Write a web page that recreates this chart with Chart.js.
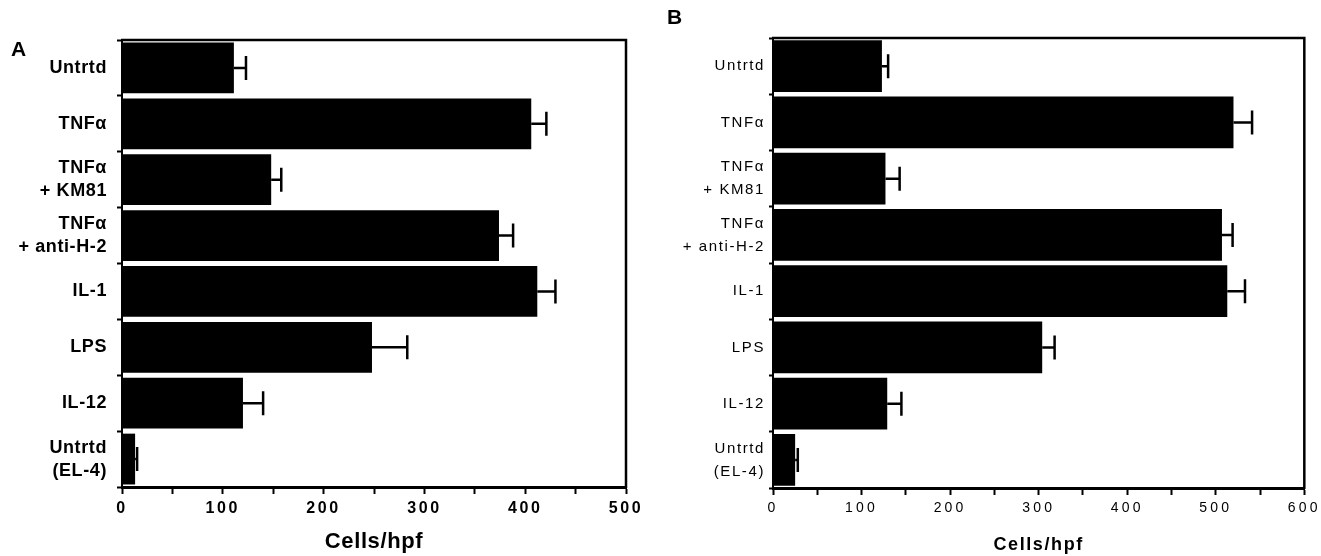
<!DOCTYPE html>
<html><head><meta charset="utf-8">
<script src="https://cdn.jsdelivr.net/npm/chart.js@4/dist/chart.umd.min.js"></script>
<style>
html,body{margin:0;padding:0;background:#fff;}
#wrap{position:relative;width:1321px;height:556px;overflow:hidden;background:#fff;}
canvas{position:absolute;top:0;}
#cA{left:0}
#cB{left:660px}
.pl{position:absolute;font-family:"Liberation Sans",Arial,sans-serif;font-weight:bold;font-size:21px;line-height:1;color:#000}
</style></head><body>
<div id="wrap">
<canvas id="cA" width="660" height="556"></canvas>
<canvas id="cB" width="661" height="556"></canvas>
<div class="pl" style="left:11px;top:38px">A</div>
<div class="pl" style="left:667px;top:6px">B</div>
</div>
<script>
// ---- data ----
const categories = [['Untrtd'], ['TNFα'], ['TNFα', '+ KM81'], ['TNFα', '+ anti-H-2'], ['IL-1'], ['LPS'], ['IL-12'], ['Untrtd', '(EL-4)']];
const meanA = [111, 406, 148, 374, 412, 248, 120, 13];
const errA  = [12, 15, 10, 14, 18, 35, 20, 2];
const meanB = [123, 520, 127, 507, 513, 304, 129, 25];
const errB  = [7, 21, 16, 12, 20, 14, 16, 3];
const xTicksA = [0, 100, 200, 300, 400, 500];
const xMinorA = [50, 150, 250, 350, 450];
const xTicksB = [0, 100, 200, 300, 400, 500, 600];
const xMinorB = [50, 150, 250, 350, 450, 550];
const axisTitle = 'Cells/hpf';

const FAM = '"Liberation Sans", Arial, Helvetica, sans-serif';

const errPlugin = {
  id: 'err',
  afterDatasetsDraw(chart, args, opts) {
    const ctx = chart.ctx, x = chart.scales.x, y = chart.scales.y;
    const vals = chart.data.datasets[0].data;
    ctx.save();
    ctx.strokeStyle = '#000';
    ctx.lineWidth = opts.lineWidth;
    vals.forEach((v, i) => {
      const yp = y.getPixelForValue(i);
      const x0 = x.getPixelForValue(v);
      const x1 = x.getPixelForValue(v + opts.errors[i]);
      ctx.beginPath();
      ctx.moveTo(x0, yp); ctx.lineTo(x1, yp);
      ctx.moveTo(x1, yp - opts.cap); ctx.lineTo(x1, yp + opts.cap);
      ctx.stroke();
    });
    ctx.restore();
  }
};

const boxPlugin = {
  id: 'box',
  afterDraw(chart, args, opts) {
    const ctx = chart.ctx, a = chart.chartArea;
    ctx.save();
    ctx.strokeStyle = '#000';
    ctx.lineWidth = opts.width;
    ctx.beginPath();
    ctx.moveTo(a.left - 1, a.top); ctx.lineTo(a.right, a.top); ctx.lineTo(a.right, a.bottom + 1);
    ctx.stroke();
    ctx.restore();
  }
};

const spacingPlugin = {
  id: 'spacing',
  beforeDraw(chart, args, opts) { chart.ctx.letterSpacing = opts.labels + 'px'; },
  afterDatasetsDraw(chart, args, opts) { chart.ctx.letterSpacing = opts.ticks + 'px'; },
  afterDraw(chart) { chart.ctx.letterSpacing = '0px'; }
};

function makePanel(id, p) {
  const majors = p.majors;
  const all = majors.concat(p.minors).sort((a, b) => a - b);
  return new Chart(document.getElementById(id), {
    type: 'bar',
    data: {
      labels: categories,
      datasets: [{ data: p.values, backgroundColor: '#000', borderWidth: 0, barPercentage: p.barPct, categoryPercentage: 1 }]
    },
    plugins: [spacingPlugin, errPlugin, boxPlugin],
    options: {
      indexAxis: 'y',
      responsive: false,
      maintainAspectRatio: false,
      devicePixelRatio: 1,
      animation: false,
      events: [],
      layout: { padding: p.padding },
      plugins: {
        legend: { display: false },
        tooltip: { enabled: false },
        err: { errors: p.errors, cap: 12, lineWidth: 2.5 },
        box: { width: 2.5 },
        spacing: { labels: p.labelSpacing, ticks: p.tickSpacing }
      },
      scales: {
        x: {
          type: 'linear', position: 'bottom', min: majors[0], max: majors[majors.length - 1],
          afterFit: s => { s.height = p.xHeight; },
          afterBuildTicks: s => { s.ticks = all.map(v => ({ value: v })); },
          grid: { display: true, drawOnChartArea: false, drawTicks: true, tickLength: 7, tickWidth: 2, tickColor: '#000', color: '#000' },
          border: { display: true, color: '#000', width: 3 },
          ticks: {
            z: 1, autoSkip: false, maxRotation: 0, color: '#000', padding: p.xPad,
            font: { family: FAM, size: p.tickSize, weight: p.tickWeight },
            callback: v => (majors.includes(v) ? String(v) : '')
          },
          title: { display: true, text: axisTitle, color: '#000', padding: { top: 0, bottom: p.titlePad },
                   font: { family: FAM, size: p.titleSize, weight: 'bold' } }
        },
        y: {
          type: 'category', position: 'left', offset: true,
          afterFit: s => { s.width = p.yWidth; },
          grid: { display: true, offset: true, drawOnChartArea: false, tickLength: p.yTick, tickWidth: 2, tickColor: '#000', color: '#000' },
          border: { display: true, color: '#000', width: 2 },
          ticks: {
            autoSkip: false, color: '#000', padding: p.yPad,
            font: { family: FAM, size: p.labelSize, weight: p.labelWeight, lineHeight: p.labelLH }
          }
        }
      }
    }
  });
}

makePanel('cA', {
  values: meanA, errors: errA, majors: xTicksA, minors: xMinorA,
  padding: { top: 40, right: 34, left: 0, bottom: 0 },
  xHeight: 69, yWidth: 122, yTick: 5, yPad: 10, barPct: 0.91, xPad: 5, titlePad: 1,
  tickSize: 16, tickWeight: 'bold', titleSize: 22,
  labelSize: 18, labelWeight: 'bold', labelLH: 23 / 18,
  labelSpacing: 0.6, tickSpacing: 2.6
});

makePanel('cB', {
  values: meanB, errors: errB, majors: xTicksB, minors: xMinorB,
  padding: { top: 38, right: 14, left: 0, bottom: 0 },
  xHeight: 68, yWidth: 113, yTick: 4, yPad: 4, barPct: 0.92, xPad: 5, titlePad: 0,
  tickSize: 14, tickWeight: 'normal', titleSize: 18,
  labelSize: 15, labelWeight: 'normal', labelLH: 23 / 15,
  labelSpacing: 1.6, tickSpacing: 3.2
});
</script>
</body></html>
